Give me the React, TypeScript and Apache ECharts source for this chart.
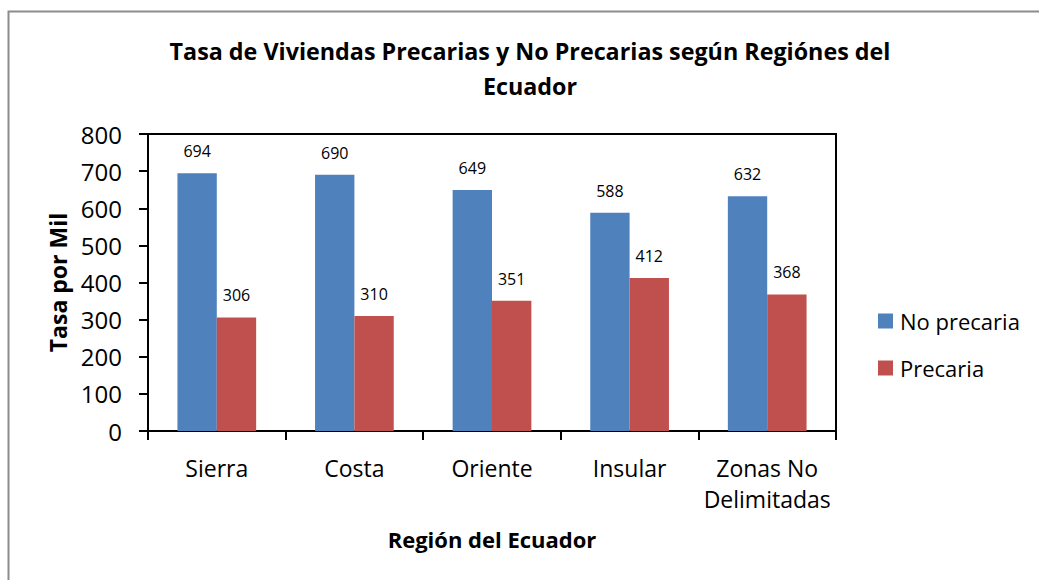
import React, { useEffect, useRef } from "react";
import * as echarts from "echarts";

const categories = ["Sierra", "Costa", "Oriente", "Insular", "Zonas No\nDelimitadas"];
const noPrecaria = [694, 690, 649, 588, 632];
const precaria = [306, 310, 351, 412, 368];
const seriesNames = ["No precaria", "Precaria"];
const titleText = "Tasa de Viviendas Precarias y No Precarias según Regiónes del\nEcuador";
const yAxisName = "Tasa por Mil";
const xAxisName = "Región del Ecuador";

const FONT = "'Open Sans', 'Noto Sans', sans-serif";

export default function App() {
  const ref = useRef<HTMLDivElement>(null);
  useEffect(() => {
    document.body.style.margin = "0";
    const chart = echarts.init(ref.current!, null, { renderer: "svg" });
    chart.setOption({
      animation: false,
      backgroundColor: "#ffffff",
      textStyle: { fontFamily: FONT },
      graphic: [
        {
          type: "rect",
          shape: { x: 8.5, y: 11.5, width: 1100, height: 700 },
          style: { fill: "none", stroke: "#8c8c8c", lineWidth: 2 },
          silent: true,
        },
      ],
      title: {
        text: titleText,
        left: 525,
        textAlign: "center",
        top: 28,
        textStyle: {
          fontFamily: FONT,
          fontWeight: "bold",
          fontSize: 23.3,
          lineHeight: 35,
          color: "#000",
        },
      },
      legend: {
        orient: "vertical",
        left: 878,
        top: 310,
        padding: 0,
        itemWidth: 15,
        itemHeight: 15,
        itemGap: 25,
        icon: "rect",
        textStyle: { fontFamily: FONT, fontSize: 22, color: "#000", padding: [0, 0, 0, 2] },
        data: seriesNames,
      },
      grid: {
        left: 148,
        top: 134,
        width: 688,
        height: 297,
        show: true,
        borderColor: "#000",
        borderWidth: 2,
        backgroundColor: "transparent",
      },
      xAxis: {
        type: "category",
        data: categories,
        name: xAxisName,
        nameLocation: "middle",
        nameGap: 97,
        nameTextStyle: { fontFamily: FONT, fontWeight: "bold", fontSize: 22, color: "#000" },
        axisLine: { lineStyle: { color: "#000", width: 2 } },
        axisTick: { show: true, interval: 0, length: 9, lineStyle: { color: "#000", width: 2 }, alignWithLabel: false },
        axisLabel: { interval: 0, hideOverlap: false, fontFamily: FONT, fontSize: 23, color: "#000", margin: 21, lineHeight: 31 },
      },
      yAxis: {
        type: "value",
        min: 0,
        max: 800,
        interval: 100,
        name: yAxisName,
        nameLocation: "middle",
        nameGap: 77,
        nameRotate: 90,
        nameTextStyle: { fontFamily: FONT, fontWeight: "bold", fontSize: 23, color: "#000" },
        axisLine: { show: true, lineStyle: { color: "#000", width: 2 } },
        axisTick: { show: true, length: 9, inside: false, lineStyle: { color: "#000", width: 2 } },
        axisLabel: { fontFamily: FONT, fontSize: 24, color: "#000", margin: 26 },
        splitLine: { show: false },
      },
      series: [
        {
          name: seriesNames[0],
          type: "bar",
          data: noPrecaria,
          barWidth: "28.6%",
          barGap: "0%",
          itemStyle: { color: "#4F81BD" },
          label: { show: true, position: "top", distance: 14, fontFamily: FONT, fontSize: 16, color: "#000" },
        },
        {
          name: seriesNames[1],
          type: "bar",
          data: precaria,
          barWidth: "28.6%",
          barGap: "0%",
          itemStyle: { color: "#C0504D" },
          label: { show: true, position: "top", distance: 14, fontFamily: FONT, fontSize: 16, color: "#000" },
        },
      ],
    });
    return () => chart.dispose();
  }, []);
  return <div ref={ref} style={{ width: 1039, height: 580 }} />;
}
